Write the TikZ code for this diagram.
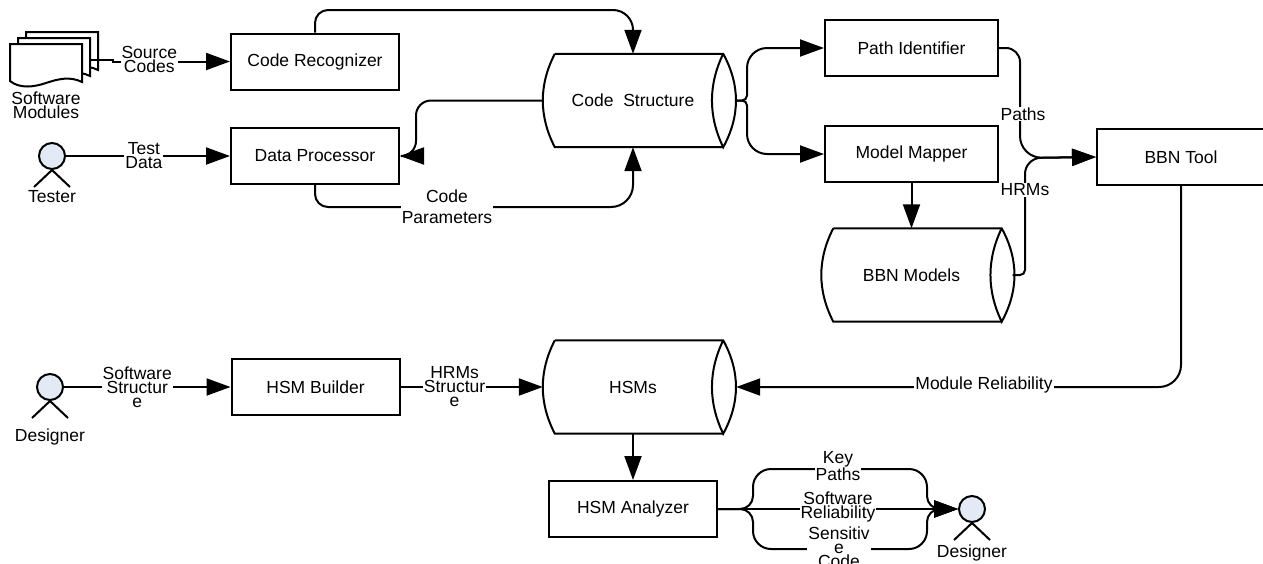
\documentclass[tikz,border=0pt]{standalone}
\usepackage{fontspec}
\setmainfont{Liberation Sans}
\usetikzlibrary{arrows.meta}
\definecolor{actorfill}{RGB}{228,234,245}
\tikzset{
  every node/.style={font=\fontsize{17.5}{14}\selectfont, align=center},
  line/.style={line width=2pt, -{Triangle[length=24pt,width=17pt]}},
  plain/.style={line width=2pt},
  box/.style={draw, line width=2pt, minimum width=168pt, minimum height=56pt, inner sep=0pt},
  lab/.style={fill=white, inner sep=1pt},
  actor/.style={draw, shape=circle, line width=2pt, fill=actorfill, minimum size=26pt, inner sep=0pt},
  store/.style={minimum width=180pt, minimum height=93pt, inner sep=0pt,
    append after command={
      \pgfextra{\draw[line width=2pt]
        ([xshift=12pt]\tikzlastnode.north west) -- (\tikzlastnode.north east)
        .. controls ([xshift=17pt,yshift=-31pt]\tikzlastnode.north east) and ([xshift=17pt,yshift=31pt]\tikzlastnode.south east) .. (\tikzlastnode.south east)
        .. controls ([xshift=-15pt,yshift=31pt]\tikzlastnode.south east) and ([xshift=-15pt,yshift=-31pt]\tikzlastnode.north east) .. (\tikzlastnode.north east);
      \draw[line width=2pt]
        (\tikzlastnode.south east) -- ([xshift=12pt]\tikzlastnode.south west)
        .. controls ([xshift=-4pt,yshift=31pt]\tikzlastnode.south west) and ([xshift=-4pt,yshift=-31pt]\tikzlastnode.north west) .. ([xshift=12pt]\tikzlastnode.north west);}
    }},
}
\begin{document}
\begin{tikzpicture}[x=1pt,y=-1pt]
  \useasboundingbox (0,0) rectangle (1263,563);

  % stacked pages
  \foreach \dx/\dy in {16/-12,8/-6,0/0}
    \draw[plain,fill=white,xshift=\dx pt,yshift=-\dy pt] (10,44) -- (82,44) -- (82,82)
      .. controls (70,76) and (58,79) .. (46,83) .. controls (34,87) and (20,89) .. (10,81) -- cycle;
  \node[minimum width=72pt, minimum height=38pt, inner sep=0pt, label={[yshift=-6pt]below:Software\\Modules}] (SM) at (46,63) {};

  \node[box] (CR) at (315,61.5) {Code Recognizer};
  \node[box] (DP) at (315,156) {Data Processor};
  \node[box] (HB) at (315.5,387) {HSM Builder};
  \node[box] (HA) at (633,509) {HSM Analyzer};
  \node[box, minimum width=173pt] (PI) at (911.5,48) {Path Identifier};
  \node[box, minimum width=173pt] (MM) at (911.5,154) {Model Mapper};
  \node[box] (BT) at (1181,157) {BBN Tool};

  \node[store] (CS) at (633,100.5) {Code~~Structure};
  \node[store] (BM) at (911.5,275) {BBN Models};
  \node[store] (HS) at (633,387) {HSMs};

  \node[actor, label={[yshift=-17pt]below:Tester}] (TE) at (52,156) {};
  \node[actor, label={[yshift=-24pt]below:Designer}] (DA) at (50,387) {};
  \node[actor, label={[yshift=-18pt]below:Designer}] (DB) at (972,509) {};
  \foreach \n in {TE,DA,DB} {
    \draw[plain] (\n.south) -- ++(-18,17);
    \draw[plain] (\n.south) -- ++(18,17);
  }

  \coordinate (CSout) at ([xshift=13pt]CS.east);
  \coordinate (BMout) at ([xshift=11pt]BM.east);
  \coordinate (HSout) at ([xshift=13pt]HS.east);
  \coordinate (SMout) at ([xshift=9pt,yshift=3pt]SM.east);

  \draw[line] (SMout) -- (113,60) -- (113,61.5) -- (CR.west) node[lab,pos=.31,yshift=2pt] {Source\\Codes};
  \draw[line] (TE) -- (DP.west) node[lab,pos=.475] {Test\\Data};
  \draw[line] (DA) -- (HB.west) node[lab,pos=.44] {Software\\Structur\\e};
  \draw[line] (HB) -- (HS.west |- HB) node[lab,pos=.38] {HRMs\\Structur\\e};

  \draw[line,rounded corners=13pt] (CR.north) -- (315,10) [rounded corners=20pt] -- (633,10) -- (CS.north);
  \draw[line,rounded corners=15pt] (CS.west) -- (416,100.5) -- (416,156) -- (DP.east);
  \draw[line,rounded corners=13pt] (DP.south) -- (315,207) [rounded corners=22pt] -- (633,207) -- (CS.south);
  \node[lab] (CP) at (447,207) {Code\\[7pt]Parameters};

  \draw[line,rounded corners=5pt] (CSout) -- (747,100.5) [rounded corners=20pt] -- (747,48) -- (PI.west);
  \draw[line,rounded corners=5pt] (CSout) -- (747,100.5) [rounded corners=20pt] -- (747,154) -- (MM.west);
  \draw[line] (MM.south) -- (BM.north);

  \draw[line,rounded corners=14pt] (PI.east) -- (1020,48) [rounded corners=22pt] -- (1020,158) -- (BT.west);
  \draw[line,rounded corners=5pt] (BMout) -- (1025,275) [rounded corners=16pt] -- (1025,158) -- (BT.west);
  \node[lab] (PA) at (1023,114) {Paths};
  \node[lab] (HR) at (1025,190) {HRMs};

  \draw[line,rounded corners=22pt] (BT.south) -- (1181,387) -- (HSout);
  \node[lab] (MR) at (984,385) {Module Reliability};
  \draw[line] (HS.south) -- (HA.north);

  \draw[line,rounded corners=13pt] (HA.east) -- (753,509) [rounded corners=18pt] -- (753,469) -- (927,469) [rounded corners=13pt] -- (927,509) -- (DB.west);
  \draw[line,rounded corners=13pt] (HA.east) -- (753,509) [rounded corners=18pt] -- (753,549) -- (927,549) [rounded corners=13pt] -- (927,509) -- (DB.west);
  \draw[line] (HA.east) -- (DB.west);
  \node[lab] (KP) at (838,466) {Key\\Paths};
  \node[lab] (SR) at (838,507) {Software\\Reliability};
  \node[lab] (SC) at (839,547) {Sensitiv\\e\\Code};
\end{tikzpicture}
\end{document}
